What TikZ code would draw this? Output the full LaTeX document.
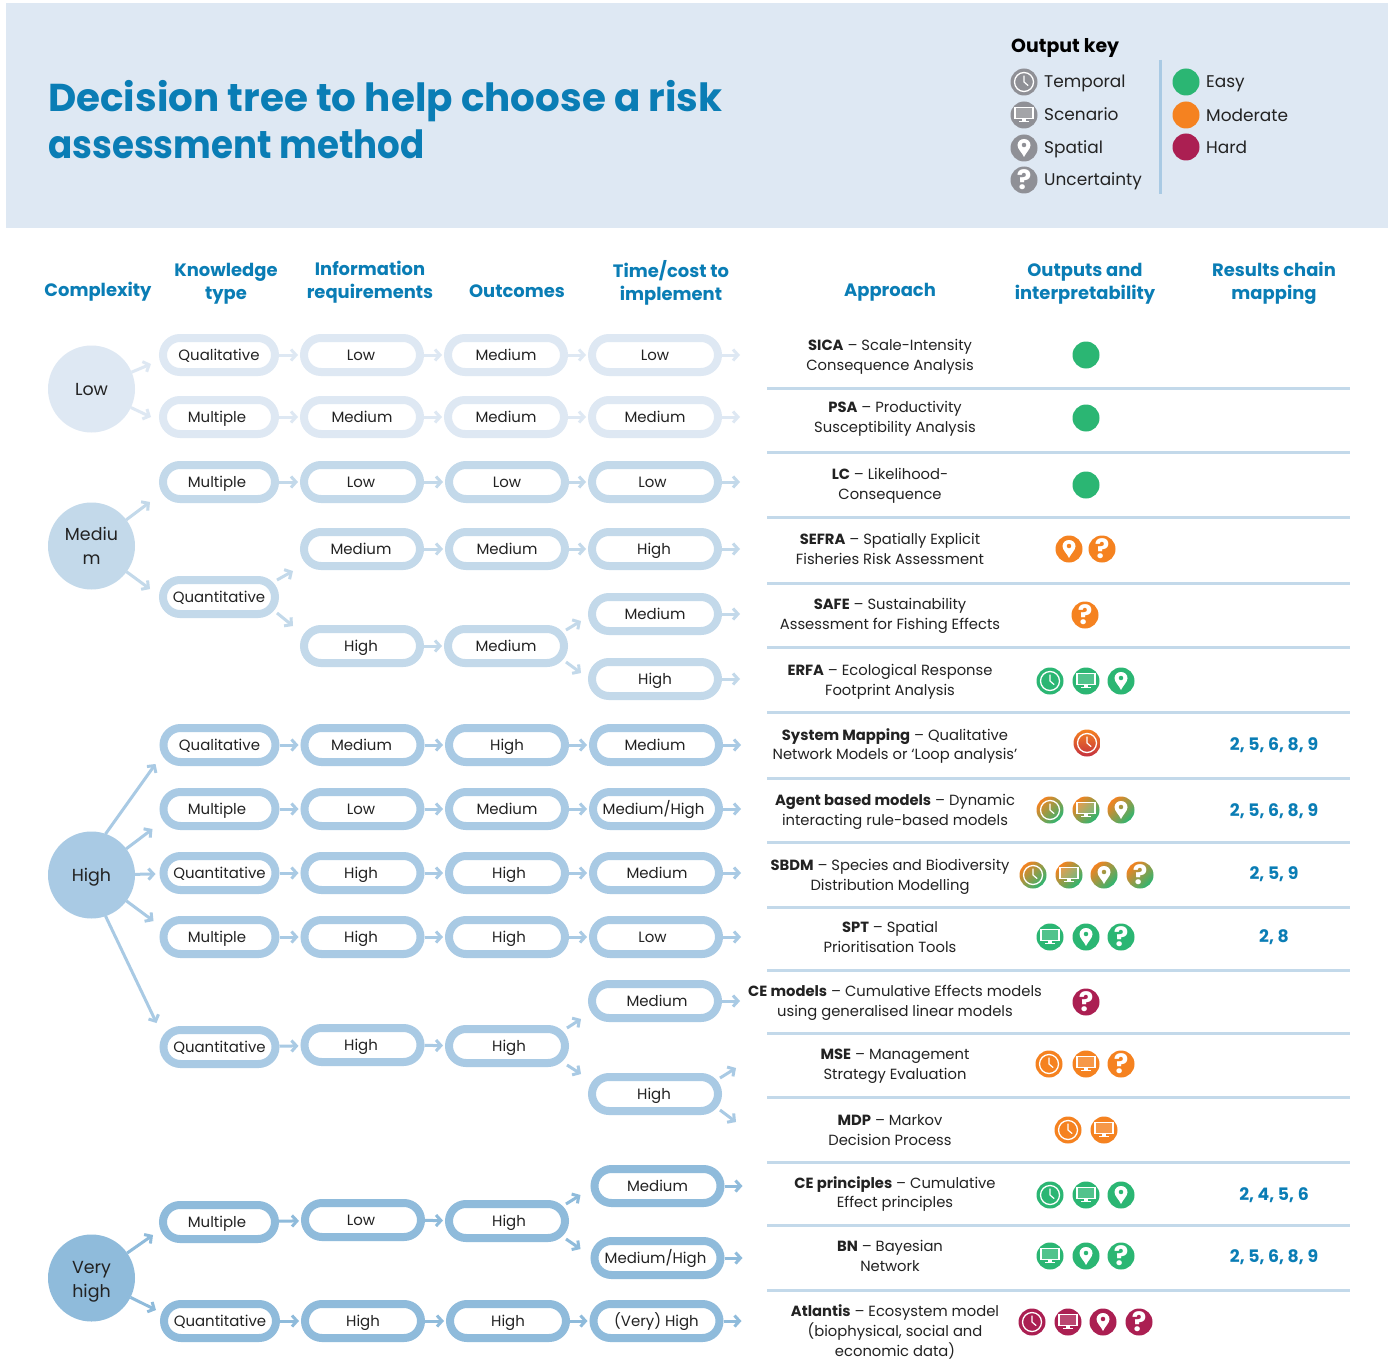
\documentclass[tikz,border=0pt]{standalone}
\usepackage{fontspec}
\setmainfont{Poppins}
\usetikzlibrary{arrows.meta}
\definecolor{lvA}{HTML}{DEE8F3}
\definecolor{lvB}{HTML}{C3D9EA}
\definecolor{lvC}{HTML}{A9CAE4}
\definecolor{lvD}{HTML}{8FBBDB}
\definecolor{ink}{HTML}{222222}
\definecolor{teal}{HTML}{0A7DB5}
\definecolor{icgreen}{HTML}{2BB673}
\definecolor{icorange}{HTML}{F58220}
\definecolor{ichard}{HTML}{AB1F52}
\definecolor{icgrey}{HTML}{8F9096}
\definecolor{icred}{HTML}{C4303F}
\newcommand{\fsz}[2]{\fontsize{#1}{#2}\selectfont}
\newcommand{\tx}[2]{\kern#1bp #2\kern-#1bp }
\tikzset{
  bx/.style={draw,fill=white,line width=8bp,rounded corners=17bp,minimum height=34bp,inner sep=0pt,text=ink,font=\fsz{15}{20},text height=12bp,text depth=2bp,align=center},
  wa/.style={minimum width=112bp},
  wb/.style={minimum width=116bp},
  wc/.style={minimum width=126bp},
  circ/.style={circle,minimum size=87bp,inner sep=0pt,outer sep=0pt,text=ink,font=\fsz{17.5}{24},align=center},
  ar/.style={line width=3bp,-{Straight Barb[length=5bp,width=11bp,line width=3bp]}},
  arb/.style={ar,shorten >=2bp},
  hd/.style={text=teal,font=\fsz{18}{23}\bfseries,align=center,inner sep=0pt},
  appr/.style={text=ink,font=\fsz{14.8}{20},align=center,inner sep=0pt},
  res/.style={text=teal,font=\fsz{17.3}{20}\bfseries,inner sep=0pt},
  keylab/.style={text=ink,font=\fsz{17}{20},anchor=west,inner sep=0pt,text height=12bp,text depth=3bp},
  sep/.style={line width=3bp,draw=lvB},
  fgreen/.style={fill=icgreen},
  forange/.style={fill=icorange},
  fhard/.style={fill=ichard},
  fgrey/.style={fill=icgrey},
  gradOG/.style={top color=icorange,bottom color=icgreen,shading angle=45},
  gradOR/.style={top color=icorange,bottom color=icred,shading angle=0},
}
% icon glyphs drawn about the origin
\newcommand{\icclock}{\draw[white,line width=1.3bp] (0,0) circle (9.5);
  \draw[white,line width=1.2bp,line cap=round,line join=round] (0,-6) -- (0,0) -- (4,3.5);}
\newcommand{\icscreen}{\draw[white,line width=1.2bp,fill=white,fill opacity=.18] (-9,-7.2) rectangle (9,3.6);
  \fill[white] (-2,3.6) rectangle (2,6); \fill[white] (-5.2,5.8) rectangle (5.2,7);}
\newcommand{\icpin}{\fill[white,even odd rule] (0,9) .. controls (-2,4.5) and (-6.5,1) .. (-6.5,-2.8) .. controls (-6.5,-6.5) and (-3.5,-9) .. (0,-9) .. controls (3.5,-9) and (6.5,-6.5) .. (6.5,-2.8) .. controls (6.5,1) and (2,4.5) .. (0,9) -- cycle (0,-3) circle (2.4);}
\newcommand{\icask}{\node[text=white,font=\fsz{27}{27}\bfseries,inner sep=0pt] at (0,0) {?};}
\newcommand{\ico}[4]{\begin{scope}[shift={(#3,#4)}]\path[#2] (0,0) circle (13.5);#1\end{scope}}
% connectors
\newcommand{\tail}[2]{\coordinate (#1t) at ([xshift=18bp]#1.east);\draw[ar,draw=#2] (#1) -- (#1t);}
\newcommand{\rowlinks}[5]{\draw[arb,draw=#1] (#2) -- (#3);\draw[arb,draw=#1] (#3) -- (#4);\draw[arb,draw=#1] (#4) -- (#5);\tail{#5}{#1}}
\begin{document}
\begin{tikzpicture}[x=1bp,y=-1bp]
\useasboundingbox (0,0) rectangle (1392,1361);
\fill[white] (0,0) rectangle (1392,1361);
\fill[lvA] (6,3) rectangle (1388,228);
% title
\node[anchor=west,text=teal,font=\fsz{39}{47}\bfseries,align=left,inner sep=0pt] (title) at (48,120) {Decision tree to help choose a risk\\\scalebox{0.917}[1]{assessment method}};
% key
\node[anchor=west,text=black,font=\fsz{19}{22}\bfseries,inner sep=0pt] (keyhead) at (1011,48) {Output key};
\ico{\icclock}{fgrey}{1024}{82}
\ico{\icscreen}{fgrey}{1024}{115}
\ico{\icpin}{fgrey}{1024}{148}
\ico{\icask}{fgrey}{1024}{180}
\node[keylab] (kt) at (1044,83) {Temporal};
\node[keylab] (ks) at (1044,116) {Scenario};
\node[keylab] (kp) at (1044,149) {Spatial};
\node[keylab] (ku) at (1044,181) {Uncertainty};
\draw[line width=3bp,draw=lvC] (1160.5,60) -- (1160.5,194);
\ico{}{fgreen}{1186}{82}
\ico{}{forange}{1186}{115}
\ico{}{fhard}{1186}{147}
\node[keylab] (ke) at (1206,83) {Easy};
\node[keylab] (km) at (1206,117) {Moderate};
\node[keylab] (kh) at (1206,149) {Hard};
% headers
\node[hd] (h1) at (98,292) {Complexity};
\node[hd] (h2) at (226,283.5) {Knowledge\\type};
\node[hd] (h3) at (370,282) {Information\\requirements};
\node[hd] (h4) at (517,291) {Outcomes};
\node[hd] (h5) at (671,283) {Time/cost to\\implement};
\node[hd] (h6) at (890,292) {Approach};
\node[hd] (h7) at (1085,283.5) {Outputs and\\interpretability};
\node[hd] (h8) at (1274,283) {Results chain\\mapping};
% complexity circles
\node[circ,fill=lvA,text height=13bp,text depth=0bp] (cL) at (91.5,389) {Low};
\node[circ,fill=lvB] (cM) at (91.5,546) {Mediu\\m};
\node[circ,fill=lvC,text height=13bp,text depth=0bp] (cH) at (91.5,875) {High};
\node[circ,fill=lvD] (cV) at (91.5,1278) {\rule{0pt}{19bp}Very\\high};
% LOW
\node[bx,wa,draw=lvA] (a1) at (219,355) {Qualitative};
\node[bx,wb,draw=lvA] (a2) at (362,355) {\tx{-1}{Low}};
\node[bx,wb,draw=lvA] (a3) at (506,355) {Medium};
\node[bx,wc,draw=lvA] (a4) at (655,355) {Low};
\node[bx,wa,draw=lvA] (b1) at (219,417) {\tx{-2}{Multiple}};
\node[bx,wb,draw=lvA] (b2) at (362,417) {Medium};
\node[bx,wb,draw=lvA] (b3) at (506,417) {Medium};
\node[bx,wc,draw=lvA] (b4) at (655,417) {Medium};
\rowlinks{lvA}{a1}{a2}{a3}{a4}
\rowlinks{lvA}{b1}{b2}{b3}{b4}
\draw[ar,draw=lvA] (cL) -- ([shift={(-8,9)}]a1.west);
\draw[ar,draw=lvA] (cL) -- ([shift={(-8,0)}]b1.west);
% MEDIUM
\node[bx,wa,draw=lvB] (c1) at (219,482) {\tx{-2}{Multiple}};
\node[bx,wb,draw=lvB] (c2) at (362,482) {\tx{-1}{Low}};
\node[bx,wb,draw=lvB] (c3) at (507,482) {Low};
\node[bx,wc,draw=lvB] (c4) at (655,482) {\tx{-2.5}{Low}};
\rowlinks{lvB}{c1}{c2}{c3}{c4}
\node[bx,wa,draw=lvB] (d1) at (219,597) {Quantitative};
\node[bx,wb,draw=lvB] (d2) at (362,549) {\tx{-1}{Medium}};
\node[bx,wb,draw=lvB] (d3) at (507,549) {Medium};
\node[bx,wc,draw=lvB] (d4) at (655,549) {\tx{-1}{High}};
\draw[arb,draw=lvB] (d2) -- (d3);\draw[arb,draw=lvB] (d3) -- (d4);\tail{d4}{lvB}
\node[bx,wb,draw=lvB] (e2) at (362,646) {\tx{-1}{High}};
\node[bx,wb,draw=lvB] (e3) at (506,646) {Medium};
\node[bx,wc,draw=lvB] (e4) at (655,614) {Medium};
\node[bx,wc,draw=lvB] (f4) at (655,679) {High};
\draw[arb,draw=lvB] (e2) -- (e3);\tail{e4}{lvB}\tail{f4}{lvB}
\draw[ar,draw=lvB] (cM) -- ([shift={(-9,20)}]c1.west);
\draw[ar,draw=lvB] (cM) -- ([shift={(-9,-8)}]d1.west);
\draw[ar,draw=lvB] ([shift={(-2,-17)}]d1.east) -- ([shift={(-7,22)}]d2.west);
\draw[ar,draw=lvB] ([shift={(-2,16)}]d1.east) -- ([shift={(-7,-20)}]e2.west);
\draw[ar,draw=lvB] ([shift={(-2,-16)}]e3.east) -- ([shift={(-7,7)}]e4.west);
\draw[ar,draw=lvB] ([shift={(-2,16)}]e3.east) -- ([shift={(-7,-6)}]f4.west);
% HIGH
\node[bx,wa,draw=lvC] (g1) at (219.5,745) {Qualitative};
\node[bx,wb,draw=lvC] (g2) at (362.5,745) {\tx{-1}{Medium}};
\node[bx,wb,draw=lvC] (g3) at (507,745) {High};
\node[bx,wc,draw=lvC] (g4) at (656,745) {\tx{-1}{Medium}};
\node[bx,wa,draw=lvC] (h1b) at (219.5,809) {\tx{-2.5}{Multiple}};
\node[bx,wb,draw=lvC] (h2b) at (362.5,809) {\tx{-1.5}{Low}};
\node[bx,wb,draw=lvC] (h3b) at (507,809) {Medium};
\node[bx,wc,draw=lvC] (h4b) at (656,809) {\tx{-2.5}{Medium/High}};
\node[bx,wa,draw=lvC] (i1) at (219.5,873) {Quantitative};
\node[bx,wb,draw=lvC] (i2) at (362.5,873) {\tx{-1.5}{High}};
\node[bx,wb,draw=lvC] (i3) at (507,873) {\tx{2}{High}};
\node[bx,wc,draw=lvC] (i4) at (656,873) {\tx{1}{Medium}};
\node[bx,wa,draw=lvC] (j1) at (219.5,937) {\tx{-2.5}{Multiple}};
\node[bx,wb,draw=lvC] (j2) at (362.5,937) {\tx{-1.5}{High}};
\node[bx,wb,draw=lvC] (j3) at (507,937) {\tx{2}{High}};
\node[bx,wc,draw=lvC] (j4) at (656,937) {\tx{-3.5}{Low}};
\rowlinks{lvC}{g1}{g2}{g3}{g4}
\rowlinks{lvC}{h1b}{h2b}{h3b}{h4b}
\rowlinks{lvC}{i1}{i2}{i3}{i4}
\rowlinks{lvC}{j1}{j2}{j3}{j4}
\node[bx,wa,draw=lvC] (k1) at (219.5,1047) {Quantitative};
\node[bx,wb,draw=lvC] (k2) at (362.5,1045) {\tx{-1.5}{High}};
\node[bx,wb,draw=lvC] (k3) at (507,1046) {\tx{2}{High}};
\node[bx,wc,draw=lvC] (k4) at (655,1001) {\tx{2}{Medium}};
\node[bx,wc,draw=lvC] (l4) at (655,1094) {\tx{-1}{High}};
\draw[arb,draw=lvC] (k1) -- (k2);\draw[arb,draw=lvC] (k2) -- (k3);
\tail{k4}{lvC}
\draw[ar,draw=lvC] ([shift={(14,-41)}]cH.center) -- ([shift={(-4,19)}]g1.west);
\draw[ar,draw=lvC] (cH) -- ([shift={(-7,20)}]h1b.west);
\draw[ar,draw=lvC] (cH) -- ([shift={(-4,1)}]i1.west);
\draw[ar,draw=lvC] (cH) -- ([shift={(-6,-16)}]j1.west);
\draw[ar,draw=lvC] ([shift={(14,41)}]cH.center) -- ([shift={(-3,-24)}]k1.west);
\draw[ar,draw=lvC] ([shift={(-2,-18)}]k3.east) -- ([shift={(-7,18)}]k4.west);
\draw[ar,draw=lvC] ([shift={(-2,19)}]k3.east) -- ([shift={(-7,-20)}]l4.west);
\coordinate (l4u) at ([shift={(14,-26)}]l4.east);
\coordinate (l4d) at ([shift={(14,28)}]l4.east);
\draw[ar,draw=lvC] ([shift={(-2,-16)}]l4.east) -- (l4u);
\draw[ar,draw=lvC] ([shift={(-2,16)}]l4.east) -- (l4d);
% VERY HIGH
\node[bx,wa,draw=lvD] (m1) at (219,1222) {\tx{-2}{Multiple}};
\node[bx,wb,draw=lvD] (m2) at (363,1220) {\tx{-2}{Low}};
\node[bx,wb,draw=lvD] (m3) at (507,1221) {\tx{2}{High}};
\node[bx,wc,draw=lvD] (m4) at (657.5,1186) {Medium};
\node[bx,wc,draw=lvD] (n4) at (657.5,1258) {\tx{-2}{Medium/High}};
\draw[arb,draw=lvD] (m1) -- (m2);\draw[arb,draw=lvD] (m2) -- (m3);
\tail{m4}{lvD}\tail{n4}{lvD}
\node[bx,wa,draw=lvD] (o1) at (220,1321) {Quantitative};
\node[bx,wb,draw=lvD] (o2) at (363,1321) {High};
\node[bx,wb,draw=lvD] (o3) at (508,1321) {High};
\node[bx,wc,draw=lvD] (o4) at (656.5,1321) {(Very) High};
\rowlinks{lvD}{o1}{o2}{o3}{o4}
\draw[ar,draw=lvD] (cV) -- ([shift={(-6,13)}]m1.west);
\draw[ar,draw=lvD] (cV) -- ([shift={(-4,-11)}]o1.west);
\draw[ar,draw=lvD] ([shift={(-3,-17)}]m3.east) -- ([shift={(-10,9)}]m4.west);
\draw[ar,draw=lvD] ([shift={(-3,18)}]m3.east) -- ([shift={(-10,-9)}]n4.west);
% separators
\foreach \yy in {388,452,517,583,647,712,778,842,907,970,1033,1097,1162,1225,1290}{\draw[sep] (767,\yy) -- (1350,\yy);}
% approaches
\node[appr] (p1) at (890,357) {\textbf{SICA} -- Scale-Intensity\\Consequence Analysis};
\node[appr] (p2) at (895,419) {\textbf{PSA} -- Productivity\\Susceptibility Analysis};
\node[appr] (p3) at (890,486) {\textbf{LC} -- Likelihood-\\Consequence};
\node[appr] (p4) at (890,549) {\textbf{SEFRA} -- Spatially Explicit\\Fisheries Risk Assessment};
\node[appr] (p5) at (890,616) {\textbf{SAFE} -- Sustainability\\Assessment for Fishing Effects};
\node[appr] (p6) at (890,682) {\textbf{ERFA} -- Ecological Response\\Footprint Analysis};
\node[appr] (p7) at (895,746) {\textbf{System Mapping} -- Qualitative\\Network Models or ‘Loop analysis’};
\node[appr] (p8) at (895,812) {\textbf{Agent based models} -- Dynamic\\interacting rule-based models};
\node[appr] (p9) at (890,877) {\textbf{SBDM} -- Species and Biodiversity\\Distribution Modelling};
\node[appr] (p10) at (890,937) {\textbf{SPT} -- Spatial\\Prioritisation Tools};
\node[appr] (p11) at (895,1003) {\textbf{CE models} -- Cumulative Effects models\\using generalised linear models};
\node[appr] (p12) at (895,1066) {\textbf{MSE} -- Management\\Strategy Evaluation};
\node[appr] (p13) at (890,1130) {\textbf{MDP} -- Markov\\Decision Process};
\node[appr] (p14) at (895,1194) {\textbf{CE principles} -- Cumulative\\Effect principles};
\node[appr] (p15) at (890,1256) {\textbf{BN} -- Bayesian\\Network};
\node[appr] (p16) at (895,1332) {\textbf{Atlantis} -- Ecosystem model\\(biophysical, social and\\economic data)};
% outputs
\ico{}{fgreen}{1086}{355}
\ico{}{fgreen}{1086}{418}
\ico{}{fgreen}{1086}{485}
\ico{\icpin}{forange}{1069}{549}
\ico{\icask}{forange}{1102}{549}
\ico{\icask}{forange}{1085}{615}
\ico{\icclock}{fgreen}{1050}{681}
\ico{\icscreen}{fgreen}{1086}{681}
\ico{\icpin}{fgreen}{1121}{681}
\ico{\icclock}{gradOR}{1087}{743}
\ico{\icclock}{gradOG}{1050}{810}
\ico{\icscreen}{gradOG}{1086}{810}
\ico{\icpin}{gradOG}{1121}{810}
\ico{\icclock}{gradOG}{1033}{875}
\ico{\icscreen}{gradOG}{1069}{875}
\ico{\icpin}{gradOG}{1104}{875}
\ico{\icask}{gradOG}{1140}{875}
\ico{\icscreen}{fgreen}{1050}{937}
\ico{\icpin}{fgreen}{1086}{937}
\ico{\icask}{fgreen}{1121}{937}
\ico{\icask}{fhard}{1086}{1002}
\ico{\icclock}{forange}{1049}{1064}
\ico{\icscreen}{forange}{1086}{1064}
\ico{\icask}{forange}{1121}{1064}
\ico{\icclock}{forange}{1068}{1130}
\ico{\icscreen}{forange}{1104}{1130}
\ico{\icclock}{fgreen}{1050}{1195}
\ico{\icscreen}{fgreen}{1086}{1195}
\ico{\icpin}{fgreen}{1121}{1195}
\ico{\icscreen}{fgreen}{1050}{1256}
\ico{\icpin}{fgreen}{1086}{1256}
\ico{\icask}{fgreen}{1121}{1256}
\ico{\icclock}{fhard}{1032}{1322}
\ico{\icscreen}{fhard}{1068}{1322}
\ico{\icpin}{fhard}{1103}{1322}
\ico{\icask}{fhard}{1139}{1322}
% results
\node[res] (r1) at (1274,745) {2, 5, 6, 8, 9};
\node[res] (r2) at (1274,811) {2, 5, 6, 8, 9};
\node[res] (r3) at (1274,874) {2, 5, 9};
\node[res] (r4) at (1274,937) {2, 8};
\node[res] (r5) at (1274,1195) {2, 4, 5, 6};
\node[res] (r6) at (1274,1257) {2, 5, 6, 8, 9};
\end{tikzpicture}
\end{document}
